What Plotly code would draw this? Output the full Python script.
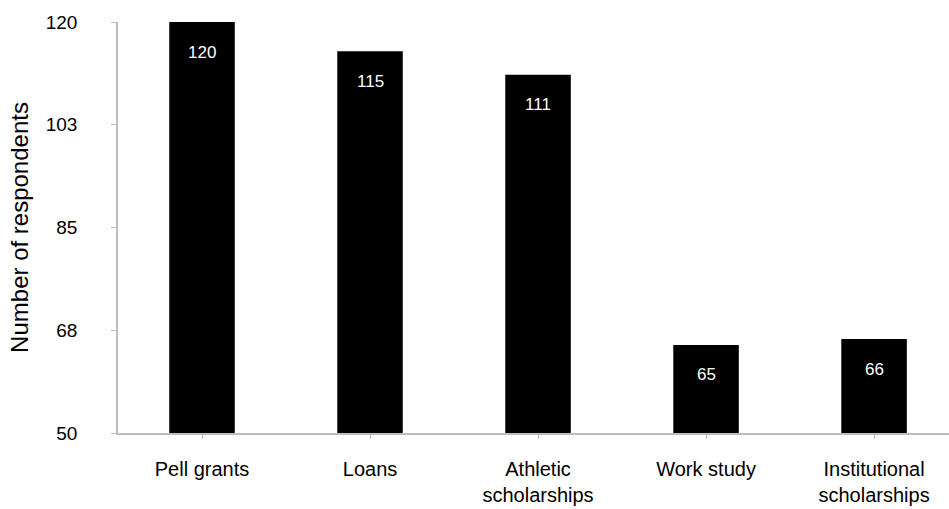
import plotly.graph_objects as go

categories = ["Pell grants", "Loans", "Athletic<br>scholarships", "Work study", "Institutional<br>scholarships"]
respondents = [120, 115, 111, 65, 66]
y_tick_vals = [50, 67.5, 85, 102.5, 120]
y_tick_text = ["50", "68", "85", "103", "120"]

FONT = "Liberation Sans, Arial, sans-serif"
AXIS_GREY = "#bdbdbd"
BASELINE = 50

# Bars rise from the 50 baseline of the value axis
fig = go.Figure(
    go.Bar(
        x=list(range(len(categories))),
        y=[v - BASELINE for v in respondents],
        base=BASELINE,
        width=0.39,
        marker=dict(color="black", line=dict(color="black", width=0)),
        hoverinfo="skip",
    )
)

# Value labels in white, just below the top of each bar
for i, v in enumerate(respondents):
    fig.add_annotation(
        x=i, y=v, text=str(v), showarrow=False, yshift=-30,
        font=dict(family=FONT, size=17, color="white"),
    )

fig.update_layout(
    width=949, height=509,
    margin=dict(l=118, r=0, t=22, b=76),
    paper_bgcolor="white", plot_bgcolor="white",
    showlegend=False,
    font=dict(family=FONT, size=20, color="black"),
)
fig.update_xaxes(
    range=[-0.5, 4.446],
    automargin=False,
    tickmode="array", tickvals=list(range(len(categories))), ticktext=categories,
    tickson="boundaries", ticks="outside", ticklen=4, tickcolor=AXIS_GREY,
    showline=True, linecolor=AXIS_GREY, linewidth=1.5,
    showgrid=False, zeroline=False,
    ticklabelstandoff=13,
    tickfont=dict(family=FONT, size=20, color="black"),
)
fig.update_yaxes(
    range=[50, 120],
    automargin=False,
    tickmode="array", tickvals=y_tick_vals, ticktext=y_tick_text,
    ticks="outside", ticklen=5, tickcolor=AXIS_GREY,
    showline=True, linecolor=AXIS_GREY, linewidth=1.5,
    showgrid=False, zeroline=False,
    ticklabelstandoff=30,
    tickfont=dict(family=FONT, size=19, color="black"),
    title=dict(text="Number of respondents", font=dict(family=FONT, size=24, color="black"), standoff=10),
)

fig.write_html("out.html")
